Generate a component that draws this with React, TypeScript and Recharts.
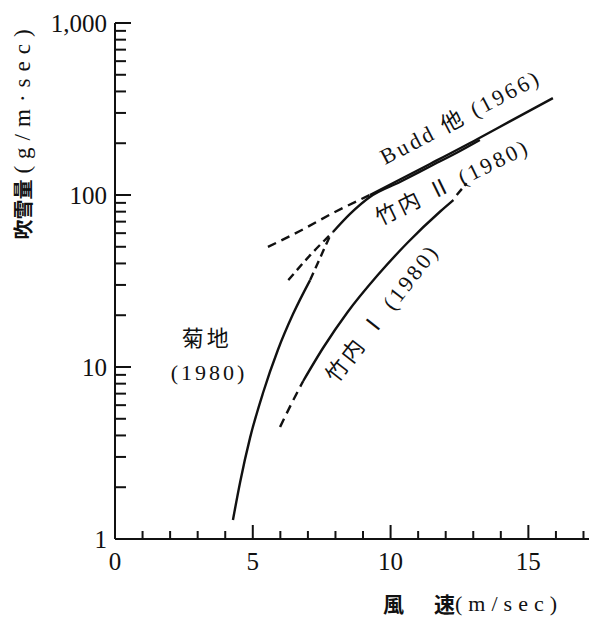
import React from 'react';
import { LineChart, Line, XAxis, YAxis, ReferenceDot, Label } from 'recharts';

const xTicks = [0, 1, 2, 3, 4, 5, 6, 7, 8, 9, 10, 11, 12, 13, 14, 15, 16, 17];
const xLabeled = [0, 5, 10, 15];
const yTicks = [1, 2, 3, 4, 5, 6, 7, 8, 9, 10, 20, 30, 40, 50, 60, 70, 80, 90, 100, 200, 300, 400, 500, 600, 700, 800, 900, 1000];
const yLabeled = [1, 10, 100, 1000];

const kikuchiSolid = [
  { x: 4.28, y: 1.29 }, { x: 4.54, y: 2.14 }, { x: 4.9, y: 3.87 }, { x: 5.37, y: 7.06 },
  { x: 5.91, y: 12.56 }, { x: 6.46, y: 20.3 }, { x: 7.08, y: 32.0 },
];
const kikuchiDashed = [{ x: 7.08, y: 32.0 }, { x: 7.44, y: 43.0 }, { x: 7.8, y: 57.8 }];

const takeuchi2Dashed = [{ x: 6.29, y: 32.0 }, { x: 7.1, y: 45.0 }, { x: 7.91, y: 60.9 }];
const takeuchi2Solid = [
  { x: 7.91, y: 60.9 }, { x: 8.53, y: 77.6 }, { x: 9.25, y: 97.3 }, { x: 10.34, y: 119 },
  { x: 11.43, y: 146.5 }, { x: 12.52, y: 180.3 }, { x: 13.24, y: 208.9 },
];

const buddDashed = [{ x: 5.55, y: 49.9 }, { x: 6.71, y: 61.8 }, { x: 7.98, y: 79.6 }, { x: 9.25, y: 100 }];
const buddSolid = [
  { x: 9.25, y: 100 }, { x: 10.34, y: 123 }, { x: 11.43, y: 151.5 }, { x: 13.14, y: 211 },
  { x: 14.33, y: 268 }, { x: 15.89, y: 366 },
];

const takeuchi1DashedLow = [{ x: 5.99, y: 4.48 }, { x: 6.41, y: 6.15 }, { x: 6.83, y: 8.29 }];
const takeuchi1Solid = [
  { x: 6.83, y: 8.29 }, { x: 7.56, y: 12.98 }, { x: 8.43, y: 20.75 }, { x: 9.52, y: 34.0 },
  { x: 10.64, y: 53.3 }, { x: 11.8, y: 80.2 }, { x: 12.28, y: 93.5 },
];
const takeuchi1DashedHigh = [{ x: 12.4, y: 100 }, { x: 12.76, y: 117 }];

const curveLabels = [
  { text: '菊地', x: 3.33, y: 14.7, angle: 0 },
  { text: '(1980)', x: 3.41, y: 9.23, angle: 0 },
  { text: 'Budd 他 (1966)', x: 12.54, y: 284, angle: -27.7 },
  { text: '竹内 Ⅱ (1980)', x: 12.25, y: 119, angle: -26 },
  { text: '竹内 Ⅰ (1980)', x: 9.71, y: 20.6, angle: -52 },
];

const INK = '#111';
const FONT = "'Liberation Serif', 'Noto Sans CJK JP', serif";

const XTick = (props: any) => {
  const { x, y, payload } = props;
  const v = payload.value;
  const major = xLabeled.includes(v);
  return (
    <g>
      <line x1={x} x2={x} y1={y} y2={y - (major ? 14 : 8)} stroke={INK} strokeWidth={2} />
      {major && (
        <text x={x} y={y + 22} textAnchor="middle" dominantBaseline="central" fontFamily={FONT} fontSize={25} fill={INK}>
          {v}
        </text>
      )}
    </g>
  );
};

const YTick = (props: any) => {
  const { x, y, payload } = props;
  const v = payload.value;
  const major = yLabeled.includes(v);
  return (
    <g>
      <line x1={x} x2={x + (major ? 16 : 11)} y1={y} y2={y} stroke={INK} strokeWidth={2} />
      {major && (
        <text x={x - 8} y={y} textAnchor="end" dominantBaseline="central" fontFamily={FONT} fontSize={25} fill={INK}>
          {v.toLocaleString('en-US')}
        </text>
      )}
    </g>
  );
};

const XTitle = (props: any) => {
  const vb = props.viewBox || { x: 115, y: 539, width: 474, height: 79 };
  const x = vb.x + vb.width - 26;
  const y = vb.y + 64;
  return (
    <text x={x} y={y} textAnchor="end" dominantBaseline="central" fontFamily={FONT} fill={INK}>
      <tspan fontSize={21} fontFamily="'Noto Sans CJK JP'" fontWeight="bold">風</tspan>
      <tspan fontSize={21} fontFamily="'Noto Sans CJK JP'" fontWeight="bold" dx={30}>速</tspan>
      <tspan fontSize={22} letterSpacing={6}>(m/sec)</tspan>
    </text>
  );
};

const YTitle = (props: any) => {
  const vb = props.viewBox || { x: 0, y: 23, width: 115, height: 516 };
  const cx = vb.x + 22;
  const cy = vb.y + 108;
  return (
    <text
      x={cx}
      y={cy}
      textAnchor="middle"
      dominantBaseline="central"
      transform={`rotate(-90 ${cx} ${cy})`}
      fontFamily={FONT}
      fill={INK}
    >
      <tspan fontSize={20} fontFamily="'Noto Sans CJK JP'" fontWeight="bold">吹雪量</tspan>
      <tspan fontSize={23} letterSpacing={7} dx={6}>(g/m·sec)</tspan>
    </text>
  );
};

const makeLabelShape = (text: string, angle: number) => (p: any) => {
  const { cx, cy } = p;
  return (
    <text
      x={cx}
      y={cy}
      textAnchor="middle"
      dominantBaseline="central"
      transform={`rotate(${angle} ${cx} ${cy})`}
      fontFamily={FONT}
      fontSize={22}
      letterSpacing={3}
      fill={INK}
    >
      {text}
    </text>
  );
};

const lineProps = {
  dataKey: 'y',
  type: 'monotone' as const,
  stroke: INK,
  strokeWidth: 2.4,
  dot: false,
  activeDot: false,
  isAnimationActive: false,
  connectNulls: true,
};

export default function App() {
  return (
    <div style={{ position: 'absolute', left: 0, top: 0, background: '#fff' }}>
      <LineChart width={589} height={618} margin={{ top: 23, right: 0, left: 0, bottom: 0 }}>
        <XAxis
          type="number"
          dataKey="x"
          domain={[0, 17.2]}
          ticks={xTicks}
          interval={0}
          allowDataOverflow
          tickSize={0}
          tickMargin={0}
          tickLine={false}
          tick={<XTick />}
          axisLine={{ stroke: INK, strokeWidth: 2 }}
          height={79}
        >
          <Label content={<XTitle />} />
        </XAxis>
        <YAxis
          type="number"
          scale="log"
          domain={[1, 1000]}
          ticks={yTicks}
          interval={0}
          allowDataOverflow
          tickSize={0}
          tickMargin={0}
          tickLine={false}
          tick={<YTick />}
          axisLine={{ stroke: INK, strokeWidth: 2 }}
          width={115}
        >
          <Label content={<YTitle />} />
        </YAxis>

        <Line {...lineProps} data={kikuchiSolid} />
        <Line {...lineProps} data={kikuchiDashed} strokeDasharray="8 5" />
        <Line {...lineProps} data={takeuchi2Dashed} strokeDasharray="8 5" />
        <Line {...lineProps} data={takeuchi2Solid} />
        <Line {...lineProps} data={buddDashed} strokeDasharray="9 6" />
        <Line {...lineProps} data={buddSolid} />
        <Line {...lineProps} data={takeuchi1DashedLow} strokeDasharray="9 6" />
        <Line {...lineProps} data={takeuchi1Solid} />
        <Line {...lineProps} data={takeuchi1DashedHigh} strokeDasharray="8 4" />

        {curveLabels.map((l, i) => (
          <ReferenceDot
            key={i}
            x={l.x}
            y={l.y}
            r={0}
            ifOverflow="visible"
            shape={makeLabelShape(l.text, l.angle)}
          />
        ))}
      </LineChart>
    </div>
  );
}
